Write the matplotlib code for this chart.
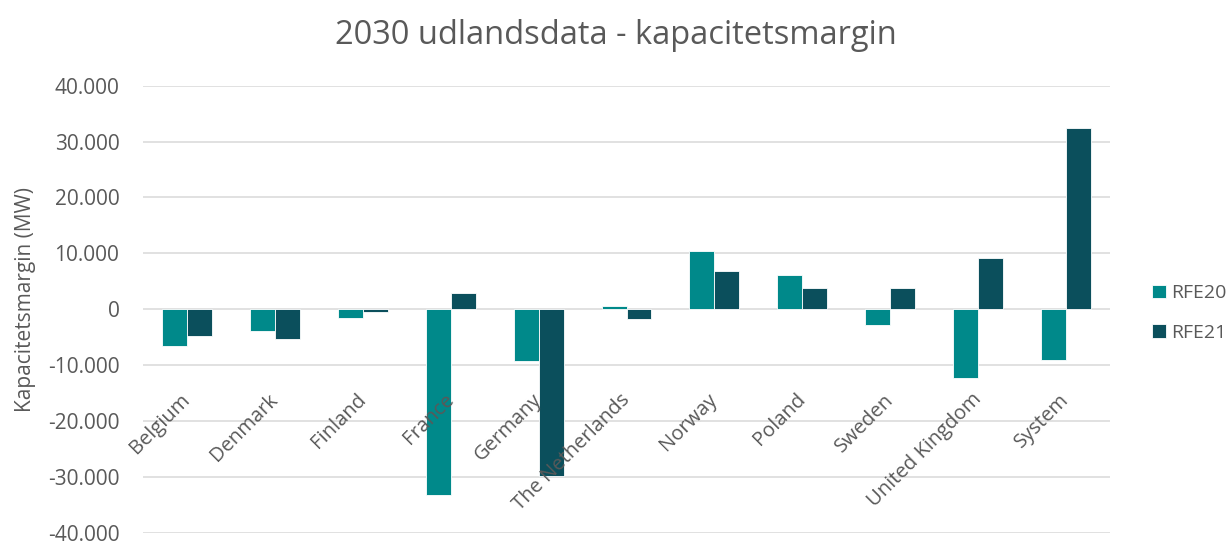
import matplotlib.pyplot as plt
import matplotlib.ticker as mticker
import numpy as np

plt.rcParams['font.family'] = ['Open Sans', 'DejaVu Sans']

countries = ['Belgium', 'Denmark', 'Finland', 'France', 'Germany', 'The Netherlands',
             'Norway', 'Poland', 'Sweden', 'United Kingdom', 'System']
rfe20 = [-6500, -3900, -1500, -33200, -9200, 700, 10500, 6100, -2800, -12300, -9000]
rfe21 = [-4700, -5200, -400, 2900, -29800, -1700, 6800, 3900, 3900, 9200, 32400]

c20 = '#00898A'
c21 = '#0B4F5C'
grey = '#595959'

fig = plt.figure(figsize=(12.32, 5.45), dpi=100)
ax = fig.add_axes([0.1161, 0.0215, 0.7849, 0.8215])

x = np.arange(len(countries))
w = 0.284
ax.bar(x - w / 2, rfe20, w, color=c20, edgecolor='white', linewidth=0.6, label='RFE20', zorder=3)
ax.bar(x + w / 2, rfe21, w, color=c21, edgecolor='white', linewidth=0.6, label='RFE21', zorder=3)

ax.set_xlim(-0.5, len(countries) - 0.5)
ax.set_ylim(-40000, 40000)
ax.set_yticks(np.arange(-40000, 40001, 10000))
ax.yaxis.set_major_formatter(mticker.FuncFormatter(lambda v, p: f'{int(v):,}'.replace(',', '.')))
ax.tick_params(axis='y', length=0, pad=17, labelsize=15, labelcolor=grey)
ax.set_xticks([])
ax.grid(axis='y', color='#D9D9D9', linewidth=1.1, zorder=0)
for s in ax.spines.values():
    s.set_visible(False)

# category labels sit inside the plot, rotated like the Excel original
for i, name in enumerate(countries):
    ax.text(i, -15600, name, rotation=45, ha='right', va='center',
            rotation_mode='anchor', fontsize=14.5, color=grey, zorder=4)

fig.text(0.021, 0.45, 'Kapacitetsmargin (MW)', rotation=90, ha='center', va='center',
         fontsize=15, color=grey)
fig.text(0.5, 0.935, '2030 udlandsdata - kapacitetsmargin', ha='center', va='center',
         fontsize=23.5, color=grey)

fig.legend(loc='center left', bbox_to_anchor=(0.935, 0.4257), frameon=False,
           fontsize=14, labelcolor=grey, handlelength=0.7, handleheight=0.7,
           handletextpad=0.3, labelspacing=1.1, borderpad=0, borderaxespad=0)

fig.savefig('out.png', dpi=100)
